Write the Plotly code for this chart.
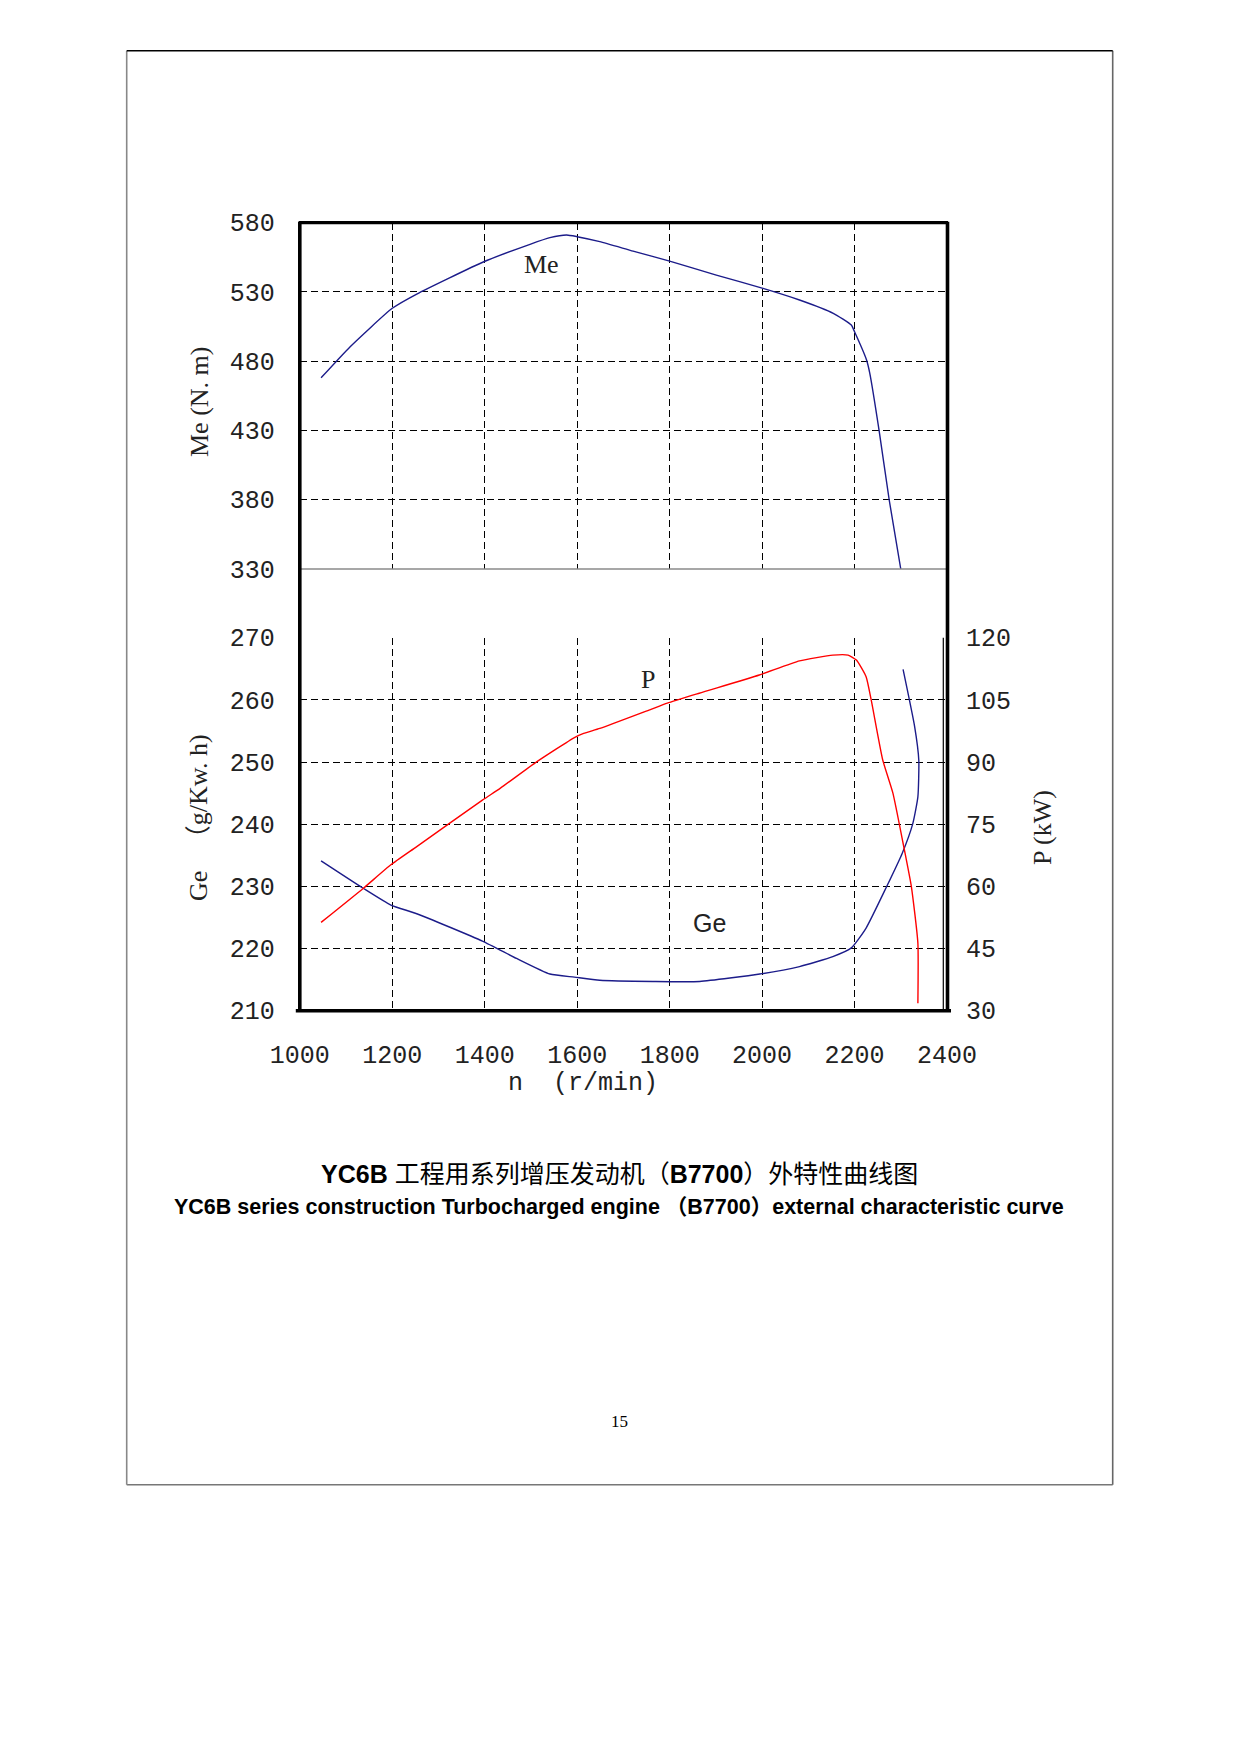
import plotly.graph_objects as go

# ---------------- data ----------------
me_n = [1046, 1109, 1200, 1253, 1398, 1498, 1541, 1577, 1600, 1649, 1721, 1800, 1901,
        2002, 2081, 2154, 2193, 2200, 2226, 2233, 2253, 2275, 2300]
me_val = [468.0, 490.5, 518.2, 528.5, 551.8, 564.4, 569.2, 571.1, 569.9, 566.3, 559.5,
          552.3, 542.2, 532.6, 524.2, 514.6, 506.1, 501.3, 480.9, 471.3, 430.3, 379.8, 330.0]

ge_n = [1046, 1137, 1197, 1253, 1395, 1469, 1541, 1594, 1649, 1764, 1865, 1995, 2081,
        2153, 2193, 2225, 2269, 2303, 2326, 2337, 2339, 2330, 2305]
ge_val = [234.1, 229.7, 227.0, 225.6, 221.2, 218.4, 215.9, 215.4, 214.9, 214.7, 214.7,
          215.9, 217.1, 218.7, 220.1, 223.3, 229.9, 235.3, 240.1, 244.4, 250.3, 255.7, 264.9]

p_n = [1046, 1137, 1197, 1253, 1395, 1434, 1513, 1594, 1614, 1649, 1757, 1795, 1864,
       1994, 2081, 2153, 2186, 2204, 2225, 2236, 2261, 2283, 2305, 2323, 2337, 2337]
p_val = [51.3, 59.5, 65.2, 69.6, 80.8, 83.7, 90.1, 95.9, 96.9, 98.1, 102.6, 104.2, 106.6,
         111.0, 114.4, 115.8, 115.8, 114.6, 110.6, 105.0, 90.5, 82.5, 70.4, 59.9, 46.3, 31.8]

n_ticks = [1000, 1200, 1400, 1600, 1800, 2000, 2200, 2400]
me_ticks = [330, 380, 430, 480, 530, 580]
ge_ticks = [210, 220, 230, 240, 250, 260, 270]
p_ticks = [30, 45, 60, 75, 90, 105, 120]

title_cn = "<b>YC6B</b> 工程用系列增压发动机（<b>B7700</b>）外特性曲线图"
title_en = "<b>YC6B series construction Turbocharged engine （B7700）external characteristic curve</b>"
page_no = "15"

# ---------------- geometry helpers (page pixel -> paper) ----------------
W, H = 1240, 1754
OFF = 8  # the page body adds an 8px margin around the figure
def px(x):
    return (x - OFF) / W
def py(y):
    return 1 - (y - OFF) / H

X0, X1 = 299.8, 947.0
UP_TOP, UP_BOT = 222.7, 569.0
LO_TOP, LO_BOT = 637.7, 1010.7

NAVY = "#1c1c8a"
RED = "#ff0000"
TICKFONT = dict(family="Liberation Mono, DejaVu Sans Mono", size=25, color="#222")
GRID = dict(showgrid=True, gridcolor="black", gridwidth=1.4, griddash="7px,4px")
COMMON = dict(automargin=False, zeroline=False, showline=False, ticks="")

fig = go.Figure()
fig.add_trace(go.Scatter(x=me_n, y=me_val, mode="lines", xaxis="x2", yaxis="y",
                         line=dict(color=NAVY, width=1.4, shape="spline", smoothing=0.5),
                         showlegend=False))
fig.add_trace(go.Scatter(x=ge_n, y=ge_val, mode="lines", xaxis="x", yaxis="y2",
                         line=dict(color=NAVY, width=1.4, shape="spline", smoothing=0.5),
                         showlegend=False))
fig.add_trace(go.Scatter(x=p_n, y=p_val, mode="lines", xaxis="x", yaxis="y3",
                         line=dict(color=RED, width=1.4, shape="spline", smoothing=0.5),
                         showlegend=False))

fig.update_layout(
    template="none",
    width=W, height=H,
    margin=dict(l=0, r=0, t=0, b=0, pad=0, autoexpand=False),
    paper_bgcolor="white", plot_bgcolor="white",
    xaxis=dict(domain=[px(X0), px(X1)], range=[1000, 2400], anchor="y2",
               tickvals=n_ticks, ticktext=[str(v) for v in n_ticks],
               tickfont=TICKFONT, ticklabelstandoff=26, **COMMON, **GRID),
    xaxis2=dict(domain=[px(X0), px(X1)], range=[1000, 2400], anchor="y",
                tickvals=n_ticks, showticklabels=False, **COMMON, **GRID),
    yaxis=dict(domain=[py(UP_BOT), py(UP_TOP)], range=[330, 580], anchor="x2",
               tickvals=me_ticks, tickfont=TICKFONT, ticklabelstandoff=24,
               **COMMON, **GRID),
    yaxis2=dict(domain=[py(LO_BOT), py(LO_TOP)], range=[210, 270], anchor="x",
                tickvals=ge_ticks, tickfont=TICKFONT, ticklabelstandoff=24,
                **COMMON, **GRID),
    yaxis3=dict(range=[30, 120], overlaying="y2", side="right", anchor="x",
                tickvals=p_ticks, tickfont=TICKFONT, ticklabelstandoff=18,
                showgrid=False, **COMMON),
)

shapes = []
def pline(x0, y0, x1, y1, color="black", width=3):
    shapes.append(dict(type="line", xref="paper", yref="paper",
                       x0=px(x0), y0=py(y0), x1=px(x1), y1=py(y1),
                       line=dict(color=color, width=width)))

# page border
pline(126.7, 1484.7, 1112.7, 1484.7, color="#777", width=1.6)
pline(126.7, 50.7, 126.7, 1484.7, color="#888", width=1.6)
pline(1112.7, 50.7, 1112.7, 1484.7, color="#666", width=1.6)
pline(126.7, 50.7, 1112.7, 50.7, color="black", width=1.6)

# separator between the two panels
pline(X0, UP_BOT, X1, UP_BOT, color="#8a8a8a", width=1.6)
# thin right edge of lower grid
pline(943.3, LO_TOP, 943.3, LO_BOT, color="black", width=1.2)
# heavy chart frame
pline(X0 - 1, UP_TOP, X1 + 1, UP_TOP, width=3.2)
pline(X0 - 4, LO_BOT, X1 + 4, LO_BOT, width=3.6)
pline(X0, UP_TOP - 1, X0, LO_BOT + 1, width=3.6)
pline(X1 + 0.5, UP_TOP - 1, X1 + 0.5, LO_BOT + 1, width=3.6)
fig.update_layout(shapes=shapes)

ann = []
def note(text, x, y, size, family, color="#222", angle=0):
    ann.append(dict(text=text, x=px(x), y=py(y), xref="paper", yref="paper",
                    showarrow=False, textangle=angle, xanchor="center", yanchor="middle",
                    font=dict(size=size, family=family, color=color)))

SERIF = "Liberation Serif, DejaVu Serif"
note("Me (N. m)", 199, 402, 26, SERIF, angle=-90)
note("Ge\u00a0\u00a0 （g/Kw. h)", 199, 818, 26, SERIF + ", Noto Sans CJK SC", angle=-90)
note("P (kW)", 1043, 828, 26, SERIF, angle=-90)
note("n\u00a0 (r/min)", 583, 1083, 25, "Liberation Mono, DejaVu Sans Mono")
note(title_cn, 619, 1174, 25, "Liberation Sans, Noto Sans CJK SC", color="black")
note(title_en, 619, 1207, 21.5, "Liberation Sans, Noto Sans CJK SC", color="black")
note(page_no, 619, 1421, 17, SERIF, color="black")
fig.update_layout(annotations=ann)

# curve labels, placed in data coordinates
fig.add_annotation(text="Me", x=1523, y=549.5, xref="x2", yref="y", showarrow=False,
                   font=dict(size=26, family=SERIF, color="#222"))
fig.add_annotation(text="P", x=1754, y=263.2, xref="x", yref="y2", showarrow=False,
                   font=dict(size=26, family=SERIF, color="#222"))
fig.add_annotation(text="Ge", x=1886, y=224.1, xref="x", yref="y2", showarrow=False,
                   font=dict(size=25, family="Liberation Sans, DejaVu Sans", color="#222"))

fig.write_html("out.html")
